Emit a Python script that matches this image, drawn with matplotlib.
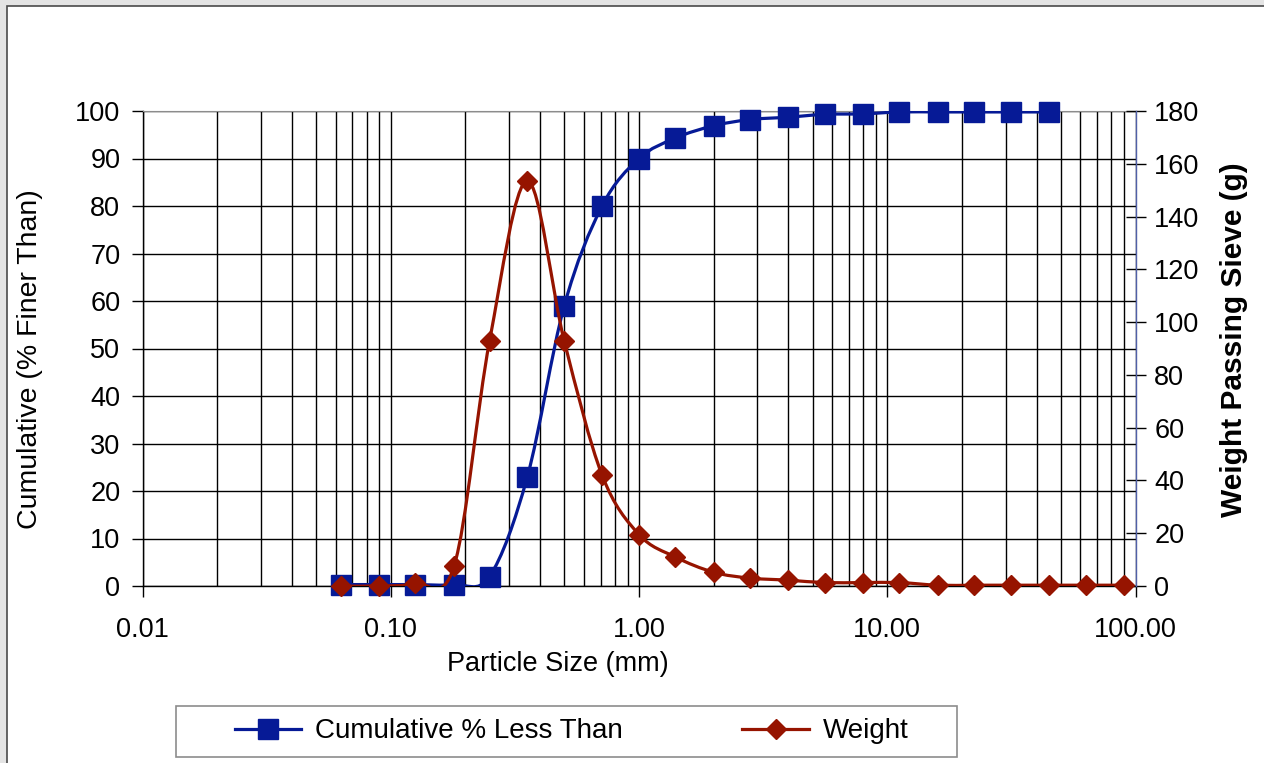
import numpy as np
import matplotlib
matplotlib.use("Agg")
import matplotlib.pyplot as plt
from matplotlib.path import Path
from matplotlib.patches import PathPatch, Rectangle
from matplotlib.lines import Line2D
from matplotlib.ticker import FixedLocator, NullFormatter

plt.rcParams["font.family"] = ["Liberation Sans", "DejaVu Sans"]

# sieve sizes (mm)
sieve = [0.063, 0.09, 0.125, 0.18, 0.25, 0.355, 0.5, 0.71, 1.0, 1.4, 2.0,
         2.8, 4.0, 5.6, 8.0, 11.2, 16.0, 22.4, 31.5, 45.0, 63.0, 90.0]
# cumulative % finer (only up to 45 mm)
cumulative = [0.3, 0.3, 0.3, 0.3, 2.0, 23.0, 59.0, 80.0, 90.0, 94.3, 96.9,
              98.2, 98.7, 99.3, 99.4, 99.8, 99.8, 99.8, 99.8, 99.8]
# weight passing sieve (g)
weight = [0.0, 0.0, 1.0, 7.6, 92.8, 153.5, 92.8, 42.0, 19.5, 11.0, 5.2,
          3.0, 2.2, 1.3, 1.3, 1.3, 0.3, 0.3, 0.3, 0.3, 0.3, 0.3]

x_ticklabels = ["0.01", "0.10", "1.00", "10.00", "100.00"]

blue = "#061a96"
red = "#961400"


def smooth_path(xs, ys):
    # excel style smoothed line: bezier segments, built in log-x space
    lx = np.log10(np.asarray(xs, dtype=float))
    yy = np.asarray(ys, dtype=float)
    n = len(lx)
    verts = [(xs[0], yy[0])]
    codes = [Path.MOVETO]
    for i in range(n - 1):
        i0 = max(i - 1, 0)
        i3 = min(i + 2, n - 1)
        c1x = lx[i] + (lx[i + 1] - lx[i0]) / 6.0
        c1y = yy[i] + (yy[i + 1] - yy[i0]) / 6.0
        c2x = lx[i + 1] - (lx[i3] - lx[i]) / 6.0
        c2y = yy[i + 1] - (yy[i3] - yy[i]) / 6.0
        verts += [(10 ** c1x, c1y), (10 ** c2x, c2y), (xs[i + 1], yy[i + 1])]
        codes += [Path.CURVE4] * 3
    return Path(verts, codes)


fig = plt.figure(figsize=(12.64, 7.63), dpi=100)
fig.patch.set_facecolor("#e4e4e4")
fig.add_artist(Rectangle((7 / 1264, -0.1), 1.1, 1.1 - 6.5 / 763,
                         transform=fig.transFigure, facecolor="white",
                         edgecolor="#4a4a4a", linewidth=1.2, zorder=-10))

ax = fig.add_axes([142.5 / 1264, 1 - 586 / 763, (1135.5 - 142.5) / 1264, 475 / 763])
ax.set_xscale("log")
ax.set_xlim(0.01, 100)
ax.set_ylim(0, 100)
ax.set_yticks(np.arange(0, 101, 10))
ax.set_xticks([0.01, 0.1, 1, 10, 100])
ax.set_xticklabels(x_ticklabels)
ax.xaxis.set_minor_locator(FixedLocator(
    [m * 10.0 ** e for e in range(-2, 2) for m in range(2, 10)]))
ax.xaxis.set_minor_formatter(NullFormatter())
ax.grid(True, which="major", axis="both", color="black", linewidth=1.0)
ax.grid(True, which="minor", axis="x", color="black", linewidth=1.0)
ax.set_axisbelow(True)
ax.tick_params(axis="y", which="major", direction="out", length=8, width=1,
               labelsize=19.5, pad=8)
ax.tick_params(axis="x", which="major", direction="out", length=8, width=1,
               labelsize=19.5, pad=14)
ax.tick_params(axis="x", which="minor", length=0)
ax.spines["top"].set_color("#8c8c8c")
ax.spines["right"].set_visible(False)
for s in ["left", "bottom"]:
    ax.spines[s].set_linewidth(1.0)

ax.add_patch(PathPatch(smooth_path(sieve[:len(cumulative)], cumulative),
                       fill=False, edgecolor=blue, linewidth=2.3, zorder=3))
ax.plot(sieve[:len(cumulative)], cumulative, linestyle="none", marker="s",
        markersize=14, color=blue, zorder=4, clip_on=False)

ax.set_xlabel("Particle Size (mm)", fontsize=19.5)
ax.xaxis.set_label_coords((558 - 142.5) / 993, -0.137)
ax.set_ylabel("Cumulative (% Finer Than)", fontsize=20.5)
ax.yaxis.set_label_coords((43 - 142.5) / 993, 0.478)

ax2 = ax.twinx()
ax2.set_ylim(0, 180)
ax2.set_yticks(np.arange(0, 181, 20))
ax2.tick_params(axis="y", direction="inout", length=15, width=1,
                labelsize=19.5, pad=6)
for s in ["top", "left", "bottom"]:
    ax2.spines[s].set_visible(False)
ax2.spines["right"].set_color("#5060a8")
ax2.spines["right"].set_linewidth(1.0)

ax2.add_patch(PathPatch(smooth_path(sieve, weight), fill=False,
                        edgecolor=red, linewidth=2.3, zorder=3))
ax2.plot(sieve, weight, linestyle="none", marker="D", markersize=10.5,
         color=red, zorder=4, clip_on=False)
ax2.set_ylabel("Weight Passing Sieve (g)", fontsize=21.5, fontweight="bold")
ax2.yaxis.set_label_coords((1220 - 142.5) / 993, 0.518)

# legend frame drawn separately so it can be wider than its content
fig.add_artist(Rectangle((176 / 1264, 1 - 757 / 763), (957 - 176) / 1264,
                         51 / 763, transform=fig.transFigure, facecolor="white",
                         edgecolor="#8c8c8c", linewidth=1.2))
handles = [Line2D([], [], color=blue, linewidth=2.3, marker="s", markersize=14),
           Line2D([], [], color=red, linewidth=2.3, marker="D", markersize=10.5)]
leg = fig.legend(handles, ["Cumulative % Less Than", "Weight"], ncol=2,
                 loc="center", bbox_to_anchor=((176 + 957) / 2 / 1264 + 0.004,
                                               1 - 731.5 / 763),
                 fontsize=20, frameon=False, handlelength=2.4,
                 handletextpad=0.5, columnspacing=4.3)

fig.savefig("out.png", dpi=100, facecolor=fig.get_facecolor())
